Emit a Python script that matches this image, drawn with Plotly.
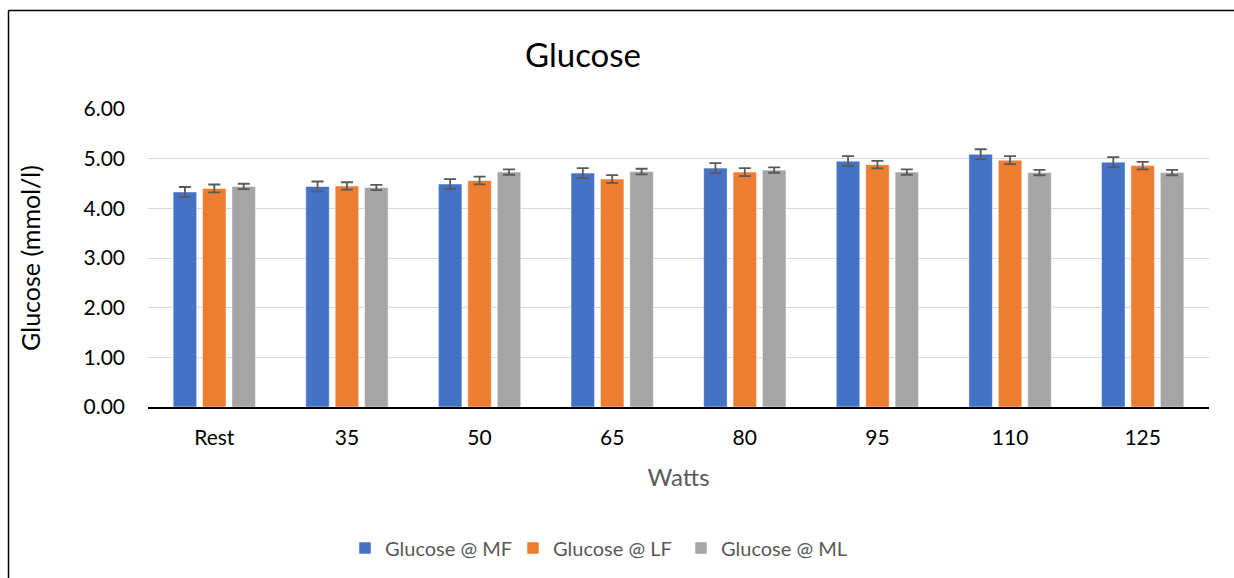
import plotly.graph_objects as go

categories = ["Rest", "35", "50", "65", "80", "95", "110", "125"]
mf_values = [4.33, 4.44, 4.49, 4.71, 4.81, 4.95, 5.09, 4.93]
lf_values = [4.40, 4.45, 4.56, 4.59, 4.73, 4.88, 4.97, 4.86]
ml_values = [4.44, 4.42, 4.73, 4.74, 4.77, 4.73, 4.72, 4.72]
mf_err = [0.10, 0.10, 0.10, 0.10, 0.10, 0.10, 0.10, 0.10]
lf_err = [0.08, 0.075, 0.077, 0.077, 0.08, 0.077, 0.08, 0.077]
ml_err = [0.055, 0.054, 0.054, 0.057, 0.054, 0.054, 0.054, 0.054]
y_ticks = [0, 1, 2, 3, 4, 5, 6]
y_tick_labels = ["0.00", "1.00", "2.00", "3.00", "4.00", "5.00", "6.00"]

series = [
    ("Glucose @ MF", mf_values, mf_err, "#4472C4"),
    ("Glucose @ LF", lf_values, lf_err, "#ED7D31"),
    ("Glucose @ ML", ml_values, ml_err, "#A5A5A5"),
]

FONT = "Lato"
fig = go.Figure()
for name, vals, errs, color in series:
    fig.add_trace(go.Bar(
        name=name, x=categories, y=vals,
        marker=dict(color=color, line=dict(color="rgba(255,255,255,0.5)", width=1)),
        error_y=dict(type="data", array=errs, visible=True, color="#595959",
                     thickness=1.8, width=6),
    ))

W, H = 1234, 578
ml, mr, mt, mb = 148, 25, 109, 171
pw, ph = W - ml - mr, H - mt - mb

def px_x(p):
    return (p - ml) / pw

def px_y(p):
    return 1 - (p - mt) / ph

fig.update_layout(
    width=W, height=H,
    margin=dict(l=ml, r=mr, t=mt, b=mb, autoexpand=False),
    paper_bgcolor="white", plot_bgcolor="white",
    barmode="group", bargap=0.335, bargroupgap=0.2,
    font=dict(family=FONT, color="#000000"),
    title=dict(text="Glucose", xref="container", yref="container",
               x=583 / W, xanchor="center", y=1 - 55 / H, yanchor="middle",
               font=dict(size=33, color="#000000", family=FONT)),
    showlegend=True,
    legend=dict(orientation="h", x=px_x(345), xanchor="left", y=px_y(548), yanchor="middle",
                font=dict(size=20, color="#595959", family=FONT), itemwidth=30,
                entrywidth=123, entrywidthmode="pixels",
                traceorder="normal"),
    yaxis=dict(range=[0, 6], tickvals=y_ticks, ticktext=y_tick_labels,
               showgrid=True, gridcolor="#D9D9D9", gridwidth=1, zeroline=False,
               showline=False, ticks="", ticklabelstandoff=22,
               tickfont=dict(size=21, color="#000000", family=FONT),
               title=dict(text="Glucose (mmol/l)", standoff=35,
                          font=dict(size=25, color="#000000", family=FONT))),
    xaxis=dict(showline=True, linecolor="#000000", linewidth=1.5, ticks="",
               ticklabelstandoff=11, showgrid=False,
               tickfont=dict(size=21, color="#000000", family=FONT),
               title=dict(text="Watts", standoff=21,
                          font=dict(size=24, color="#595959", family=FONT))),
)

# chart frame border (left and top edges visible)
fig.add_shape(type="line", xref="paper", yref="paper",
              x0=px_x(8.5), x1=px_x(8.5), y0=px_y(10.5), y1=px_y(600),
              line=dict(color="#000000", width=1.5))
fig.add_shape(type="line", xref="paper", yref="paper",
              x0=px_x(8.5), x1=px_x(1260), y0=px_y(10.5), y1=px_y(10.5),
              line=dict(color="#000000", width=1.5))

fig.write_html("out.html", config={"displayModeBar": False},
               post_script="document.body.style.margin='0';document.body.style.overflow='hidden';")
